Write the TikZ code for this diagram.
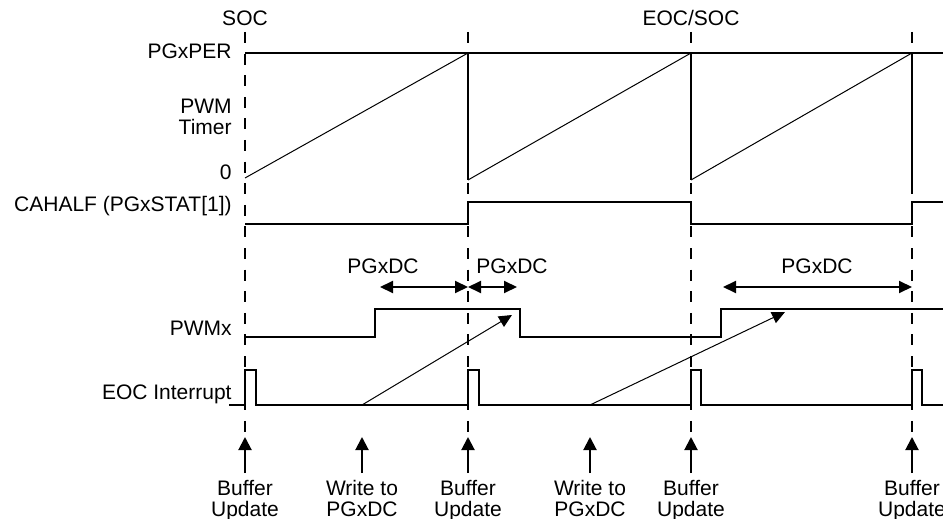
\documentclass[tikz,border=0pt]{standalone}
\usepackage{fontspec}
\setmainfont{Liberation Sans}
\usetikzlibrary{arrows.meta, positioning}

\begin{document}
\begin{tikzpicture}[
  x=0.5pt, y=-0.5pt,
  lbl/.style={font=\fontsize{10.5}{10.5}\selectfont, inner sep=0pt},
  evlbl/.style={lbl, align=center, anchor=north, inner ysep=3.5pt},
  wave/.style={line width=1pt},
  ramp/.style={line width=0.5pt},
  marker/.style={line width=1pt, dash pattern=on 5.5pt off 5.3pt},
  span/.style={line width=1pt, {Triangle[length=6.5pt,width=6pt]}-{Triangle[length=6.5pt,width=6pt]}},
  uparrow/.style={line width=1pt, -{Triangle[length=6.5pt,width=6.5pt]}},
  wrarrow/.style={line width=0.5pt, -{Triangle[length=6.5pt,width=6pt]}},
]
  \useasboundingbox (0,0) rectangle (943,519);

  % Time markers
  \foreach \x in {245,468,691,912} {
    \draw[marker] (\x,32) -- (\x,432);
  }

  % Titles
  \node[lbl, anchor=base] (soc) at (245,26) {SOC};
  \node[lbl, anchor=base] (eocsoc) at (691,26) {EOC/SOC};

  % Row labels
  \node[lbl, anchor=base east] (per) at (232,59) {PGxPER};
  \node[lbl, anchor=base east, align=right] (timer) at (232,135) {PWM\\Timer};
  \node[lbl, anchor=base east] (zero) at (232,180) {0};
  \node[lbl, anchor=base east] (cahalf) at (232,212) {CAHALF (PGxSTAT[1])};
  \node[lbl, anchor=base east] (pwmx) at (232,335) {PWMx};
  \node[lbl, anchor=base east] (eoc) at (232,399) {EOC Interrupt};

  % PWM timer
  \draw[wave] (245,53) -- (943,53);
  \draw[ramp] (245,178) -- (468,53) (468,180) -- (691,53) (691,180) -- (912,53);
  \draw[wave] (468,53) -- (468,180) (691,53) -- (691,180) (912,53) -- (912,183);

  % CAHALF
  \draw[wave] (245,224) -- (468,224) -- (468,202) -- (691,202) -- (691,224)
    -- (912,224) -- (912,202) -- (943,202);

  % PWMx
  \draw[wave] (245,337) -- (375,337) -- (375,309) -- (520,309) -- (520,337)
    -- (721,337) -- (721,309) -- (943,309);

  % EOC interrupt
  \draw[wave] (229,405) -- (245,405) -- (245,370) -- (256,370) -- (256,405)
    -- (468,405) -- (468,370) -- (479,370) -- (479,405)
    -- (691,405) -- (691,370) -- (701,370) -- (701,405)
    -- (912,405) -- (912,370) -- (922,370) -- (922,405) -- (943,405);

  % Duty cycle spans
  \coordinate (dc1a) at (380,287);
  \coordinate (dc1b) at (468,287);
  \coordinate (dc2b) at (517,287);
  \coordinate (dc3a) at (723,287);
  \coordinate (dc3b) at (912,287);
  \draw[span] (dc1a) -- (dc1b);
  \draw[span] (dc1b) -- (dc2b);
  \draw[span] (dc3a) -- (dc3b);
  \node[lbl, anchor=base] (dc1) at (383,273) {PGxDC};
  \node[lbl, anchor=base] (dc2) at (512,273) {PGxDC};
  \node[lbl, anchor=base] (dc3) at (817,273) {PGxDC};

  % Writes taking effect
  \coordinate (wr1) at (362,405);
  \coordinate (wr2) at (590,405);
  \coordinate (hit1) at (512,315);
  \coordinate (hit2) at (785,312);
  \draw[wrarrow] (wr1) -- (hit1);
  \draw[wrarrow] (wr2) -- (hit2);

  % Events
  \foreach \px/\ev/\txt in {245/bu1/{Buffer\\Update}, 362/wd1/{Write to\\PGxDC},
      468/bu2/{Buffer\\Update}, 590/wd2/{Write to\\PGxDC},
      691/bu3/{Buffer\\Update}, 912/bu4/{Buffer\\Update}} {
    \node[evlbl] (\ev) at (\px,473) {\txt};
    \draw[uparrow] (\ev.north) -- ++(0,-36) coordinate (\ev-tip);
  }

\end{tikzpicture}
\end{document}
